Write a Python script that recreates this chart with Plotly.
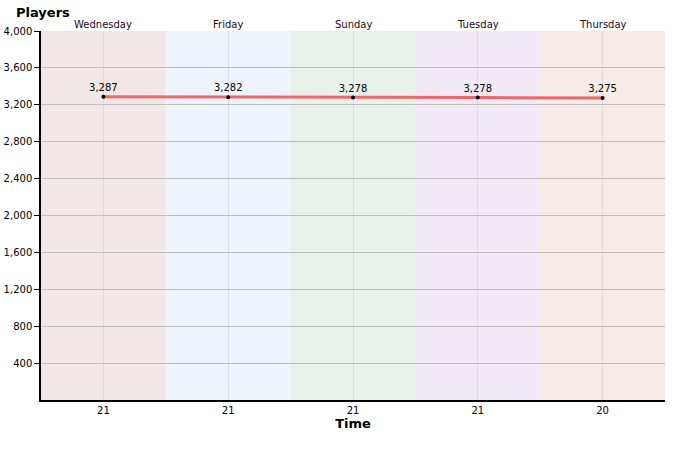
import plotly.graph_objects as go

days = ["Wednesday", "Friday", "Sunday", "Tuesday", "Thursday"]
players = [3287, 3282, 3278, 3278, 3275]
time_labels = ["21", "21", "21", "21", "20"]
band_colors = ["#f2e7e7", "#edf4fb", "#e9f2ea", "#f1eaf6", "#f6ebe6"]
y_ticks = [400, 800, 1200, 1600, 2000, 2400, 2800, 3200, 3600, 4000]

x = list(range(len(days)))
FONT = "DejaVu Sans"

fig = go.Figure()

shapes = []
for i, c in enumerate(band_colors):
    shapes.append(dict(type="rect", xref="x", yref="paper", x0=i - 0.5, x1=i + 0.5,
                       y0=0, y1=1, fillcolor=c, line=dict(width=0), layer="below"))

fig.add_trace(go.Scatter(
    x=x, y=players, mode="lines+markers+text",
    line=dict(color="rgba(240,80,80,0.85)", width=3),
    marker=dict(color="black", size=4),
    text=[f"{v:,}" for v in players], textposition="top center",
    textfont=dict(family=FONT, size=10, color="black"),
    hoverinfo="skip", showlegend=False,
))

annotations = [dict(text=d, x=i, y=1, xref="x", yref="paper", yanchor="bottom",
                    showarrow=False, yshift=-1, font=dict(family=FONT, size=10, color="#1a0a1a"))
               for i, d in enumerate(days)]
annotations.append(dict(
    text="<b>Players</b>", x=-27 / 624, y=1 + 19 / 369, xref="paper", yref="paper",
    xanchor="left", yanchor="middle", showarrow=False,
    font=dict(family=FONT, size=13, color="black")))

fig.update_layout(
    width=680, height=450,
    margin=dict(l=41, r=15, t=31, b=50),
    paper_bgcolor="white", plot_bgcolor="white",
    shapes=shapes,
    annotations=annotations,
    xaxis=dict(range=[-0.5, 4.5], tickvals=x, ticktext=time_labels,
               showgrid=True, gridcolor="rgba(200,200,200,0.45)", gridwidth=1,
               showline=True, linecolor="black", linewidth=1.5, ticks="",
               tickfont=dict(family=FONT, size=10, color="black"),
               title=dict(text="<b>Time</b>", font=dict(family=FONT, size=13, color="black"), standoff=4),
               zeroline=False, fixedrange=True, automargin=False),
    yaxis=dict(range=[0, 4000], tickvals=y_ticks, tickformat=",d",
               showgrid=True, gridcolor="#c0bcbc", gridwidth=1,
               showline=True, linecolor="black", linewidth=1.5,
               ticks="outside", ticklen=5, tickcolor="black",
               tickfont=dict(family=FONT, size=10, color="black"),
               zeroline=False, fixedrange=True, automargin=False),
)

fig.write_html("out.html", config={"displayModeBar": False},
               post_script="document.body.style.margin='0';")
